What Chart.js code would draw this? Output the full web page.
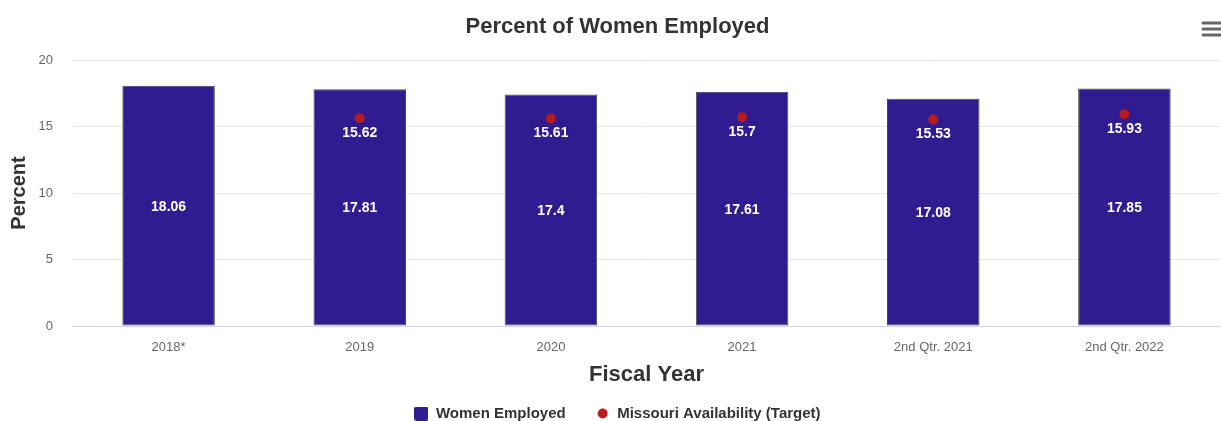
<!DOCTYPE html>
<html lang="en">
<head>
    <meta charset="UTF-8">
    <title>Percent of Women Employed</title>
    <script src="https://cdn.jsdelivr.net/npm/chart.js"></script>
    <style>
        html, body { margin: 0; padding: 0; overflow: hidden; background: #fff; }
        canvas { display: block; }
    </style>
</head>
<body>
    <canvas id="womenChart" width="1225" height="421"></canvas>

    <script>
        // chart data
        const categories = ['2018*', '2019', '2020', '2021', '2nd Qtr. 2021', '2nd Qtr. 2022'];
        const womenEmployed = [18.06, 17.81, 17.4, 17.61, 17.08, 17.85];
        const missouriTarget = [null, 15.62, 15.61, 15.7, 15.53, 15.93];
        const yMin = 0;
        const yMax = 20;
        const yStep = 5;

        const FONT = '"Liberation Sans", Arial, Helvetica, sans-serif';
        const BAR_COLOR = '#301B91';
        const DOT_COLOR = '#B71C1C';

        // little images for the legend markers
        function legendSquare() {
            const c = document.createElement('canvas');
            c.width = 14; c.height = 14;
            const g = c.getContext('2d');
            g.fillStyle = BAR_COLOR;
            g.beginPath();
            g.roundRect(0, 0, 14, 14, 2);
            g.fill();
            return c;
        }
        function legendDot() {
            const c = document.createElement('canvas');
            c.width = 11; c.height = 11;
            const g = c.getContext('2d');
            g.fillStyle = DOT_COLOR;
            g.beginPath();
            g.arc(5.5, 5.5, 5, 0, Math.PI * 2);
            g.fill();
            return c;
        }

        // white value labels on bars and under the target dots
        const valueLabels = {
            id: 'valueLabels',
            afterDatasetsDraw(chart) {
                const ctx = chart.ctx;
                ctx.save();
                ctx.fillStyle = '#ffffff';
                ctx.font = 'bold 14px ' + FONT;
                ctx.textAlign = 'center';
                ctx.textBaseline = 'middle';
                chart.data.datasets.forEach((ds, i) => {
                    const meta = chart.getDatasetMeta(i);
                    meta.data.forEach((el, j) => {
                        const v = ds.data[j];
                        if (v === null || v === undefined) return;
                        if (ds.type === 'bar') {
                            ctx.fillText(String(v), el.x, (el.y + el.base) / 2 + 1);
                        } else {
                            ctx.fillText(String(v), el.x, el.y + 15);
                        }
                    });
                });
                ctx.restore();
            }
        };

        // the export menu icon in the corner
        const menuIcon = {
            id: 'menuIcon',
            afterDraw(chart) {
                const ctx = chart.ctx;
                ctx.save();
                ctx.strokeStyle = '#666666';
                ctx.lineWidth = 3;
                ctx.lineCap = 'round';
                [23, 29, 35].forEach(y => {
                    ctx.beginPath();
                    ctx.moveTo(1203, y);
                    ctx.lineTo(1224, y);
                    ctx.stroke();
                });
                ctx.restore();
            }
        };

        const ctx = document.getElementById('womenChart').getContext('2d');
        new Chart(ctx, {
            data: {
                labels: categories,
                datasets: [{
                    type: 'bar',
                    label: 'Women Employed',
                    data: womenEmployed,
                    backgroundColor: BAR_COLOR,
                    borderColor: '#4a4a4a',
                    borderWidth: 1,
                    borderSkipped: false,
                    barPercentage: 0.484,
                    categoryPercentage: 1,
                    order: 1
                }, {
                    type: 'line',
                    label: 'Missouri Availability (Target)',
                    data: missouriTarget,
                    showLine: false,
                    pointRadius: 5,
                    pointHoverRadius: 5,
                    pointBackgroundColor: DOT_COLOR,
                    pointBorderWidth: 0,
                    backgroundColor: DOT_COLOR,
                    order: 0
                }]
            },
            plugins: [valueLabels, menuIcon],
            options: {
                responsive: false,
                animation: false,
                layout: { padding: { left: 10, right: 0, top: 0, bottom: 0 } },
                plugins: {
                    title: {
                        display: true,
                        text: 'Percent of Women Employed',
                        color: '#333333',
                        font: { family: FONT, size: 22, weight: 'bold' },
                        padding: { top: 14, bottom: 19.6 }
                    },
                    legend: {
                        position: 'bottom',
                        maxHeight: 45,
                        labels: {
                            usePointStyle: true,
                            boxWidth: 14,
                            boxHeight: 14,
                            padding: 30,
                            color: '#333333',
                            font: { family: FONT, size: 15, weight: 'bold' },
                            generateLabels: () => [
                                { text: 'Women Employed', pointStyle: legendSquare(), fontColor: '#333333', lineWidth: 0, datasetIndex: 0 },
                                { text: 'Missouri Availability (Target)', pointStyle: legendDot(), fontColor: '#333333', lineWidth: 0, datasetIndex: 1 }
                            ]
                        }
                    },
                    tooltip: { enabled: false }
                },
                scales: {
                    x: {
                        grid: { display: false },
                        border: { display: true, color: '#ccd6eb', width: 1 },
                        ticks: { color: '#666666', padding: 6, font: { family: FONT, size: 13 } },
                        title: {
                            display: true,
                            text: 'Fiscal Year',
                            color: '#333333',
                            font: { family: FONT, size: 22, weight: 'bold' },
                            padding: { top: 0, bottom: -12 }
                        },
                        afterFit: (scale) => { scale.height = 50; }
                    },
                    y: {
                        min: yMin,
                        max: yMax,
                        grid: { color: '#e6e6e6', drawTicks: false },
                        border: { display: false },
                        ticks: { stepSize: yStep, color: '#666666', padding: 20, font: { family: FONT, size: 13 } },
                        title: {
                            display: true,
                            text: 'Percent',
                            color: '#333333',
                            font: { family: FONT, size: 20, weight: 'bold' },
                            padding: { top: -3, bottom: 0 }
                        },
                        afterFit: (scale) => { scale.width = 63; }
                    }
                }
            }
        });
    </script>
</body>
</html>
